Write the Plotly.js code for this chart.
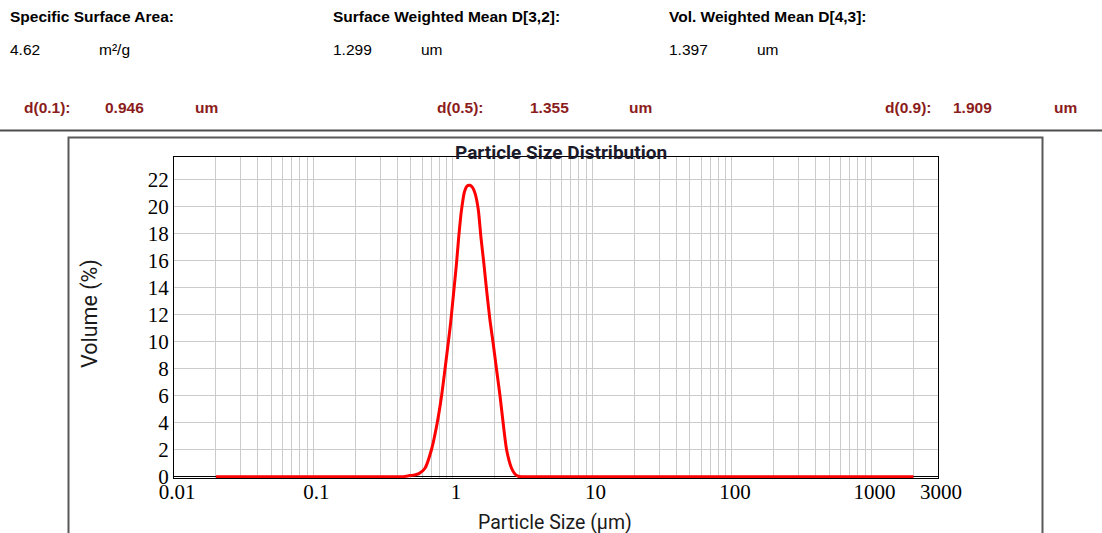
<!DOCTYPE html>
<html><head><meta charset="utf-8">
<script src="https://cdn.plot.ly/plotly-3.0.1.min.js"></script>
<style>html,body{margin:0;padding:0;background:#fff}#chart{width:1102px;height:533px}</style>
</head><body><div id="chart"></div>
<script>
// ---- data ----
const particleSize = [0.02, 0.3, 0.44, 0.49, 0.53, 0.57, 0.63, 0.70, 0.77, 0.83, 0.875, 0.924, 0.96, 1.015, 1.06, 1.10, 1.15, 1.21, 1.26, 1.32, 1.38, 1.44, 1.52, 1.585, 1.665, 1.742, 1.84, 1.941, 2.055, 2.17, 2.29, 2.425, 2.63, 2.78, 2.94, 3.1, 2000];
const volumePct = [0, 0, 0, 0.08, 0.12, 0.22, 0.62, 1.97, 3.95, 6.04, 7.89, 9.87, 11.3, 13.8, 15.78, 17.75, 19.7, 21.1, 21.5, 21.56, 21.4, 20.96, 19.73, 17.75, 15.78, 13.8, 11.6, 9.87, 7.89, 6.04, 3.95, 1.97, 0.62, 0.2, 0.03, 0, 0];
const xTickVals = [0.01, 0.1, 1, 10, 100, 1000, 3000];
const xTickText = ['0.01', '0.1', '1', '10', '100', '1000', '3000'];
const yTickVals = [0, 2, 4, 6, 8, 10, 12, 14, 16, 18, 20, 22];
const yTickText = ['0', '2', '4', '6', '8', '10', '12', '14', '16', '18', '20', '22'];

const headerLabels = ['Specific Surface Area:', 'Surface Weighted Mean D[3,2]:', 'Vol. Weighted Mean D[4,3]:'];
const headerValues = ['4.62', '1.299', '1.397'];
const headerUnits = ['m²/g', 'um', 'um'];
const dLabels = ['d(0.1):', 'd(0.5):', 'd(0.9):'];
const dValues = ['0.946', '1.355', '1.909'];
const dUnits = ['um', 'um', 'um'];

const chartTitle = 'Particle Size Distribution';
const xTitle = 'Particle Size (µm)';
const yTitle = 'Volume (%)';

// ---- layout geometry (pixels) ----
const W = 1102, H = 533;
const M = {l: 174, r: 164, t: 157, b: 55};
const PW = W - M.l - M.r, PH = H - M.t - M.b;
const px2x = p => (p - M.l) / PW;
const px2y = p => (H - M.b - p) / PH;

const headerLabelX = [7.5, 330.5, 667];
const headerUnitX = [97, 419, 755];
const dLabelX = [22, 435, 882.5];
const dValueX = [103, 528, 951];
const dUnitX = [193, 627, 1051.5];

const annotations = [];
const sans = 'Liberation Sans, Arial, sans-serif';
function ann(text, px, py, opts) {
  annotations.push(Object.assign({
    text: text, xref: 'paper', yref: 'paper', x: px2x(px), y: px2y(py),
    xanchor: 'left', yanchor: 'middle', showarrow: false,
    font: {family: sans, size: 15.5, color: '#000'}
  }, opts || {}));
}
for (let i = 0; i < 3; i++) {
  ann('<b>' + headerLabels[i] + '</b>', headerLabelX[i], 16.3);
  ann(headerValues[i], headerLabelX[i], 49.5);
  ann(headerUnits[i], headerUnitX[i], 49.5);
  const red = {family: sans, size: 15.5, color: '#8b1c1c'};
  ann('<b>' + dLabels[i] + '</b>', dLabelX[i], 107.5, {font: red});
  ann('<b>' + dValues[i] + '</b>', dValueX[i], 107.5, {font: red});
  ann('<b>' + dUnits[i] + '</b>', dUnitX[i], 107.5, {font: red});
}
const titleFont = 'Roboto, Noto Sans, sans-serif';
ann('<b>' + chartTitle + '</b>', 561, 152, {xanchor: 'center', font: {family: titleFont, size: 19, color: '#1a1a2a'}});
ann(xTitle, 555, 522, {xanchor: 'center', font: {family: titleFont, size: 19.5, color: '#1a1a1a'}});
ann(yTitle, 90, 314, {xanchor: 'center', textangle: -90, font: {family: titleFont, size: 21.5, color: '#1a1a1a'}});

const shapes = [
  {type: 'line', xref: 'paper', yref: 'paper', x0: px2x(0), x1: px2x(W), y0: px2y(130.5), y1: px2y(130.5),
   line: {color: '#4d4d4d', width: 2}},
  {type: 'rect', xref: 'paper', yref: 'paper', x0: px2x(68.5), x1: px2x(1042.5), y0: px2y(560), y1: px2y(137.5),
   line: {color: '#595959', width: 2}, fillcolor: 'rgba(0,0,0,0)'}
];

const trace = {
  x: particleSize, y: volumePct, type: 'scatter', mode: 'lines',
  line: {color: '#ff0000', width: 3, shape: 'spline', smoothing: 0.6},
  hoverinfo: 'skip'
};

const gridColor = '#cbcbcb';
const layout = {
  width: W, height: H,
  margin: M,
  paper_bgcolor: '#fff', plot_bgcolor: '#fff',
  showlegend: false,
  xaxis: {
    type: 'log', range: [Math.log10(0.01), Math.log10(3000)],
    tickmode: 'array', tickvals: xTickVals, ticktext: xTickText,
    tickfont: {family: 'Liberation Serif, Times New Roman, serif', size: 21, color: '#000'},
    showgrid: true, gridcolor: gridColor, gridwidth: 1,
    minor: {dtick: 'D1', showgrid: true, gridcolor: gridColor, gridwidth: 1, ticks: ''},
    showline: true, mirror: true, linecolor: '#000', linewidth: 1,
    ticks: '', ticklabelstandoff: -5, ticklabelshift: 3,
    zeroline: false, fixedrange: true
  },
  yaxis: {
    range: [-0.1, 23.65],
    tickmode: 'array', tickvals: yTickVals, ticktext: yTickText,
    tickfont: {family: 'Liberation Serif, Times New Roman, serif', size: 21, color: '#000'},
    showgrid: true, gridcolor: gridColor, gridwidth: 1,
    showline: true, mirror: true, linecolor: '#000', linewidth: 1,
    zeroline: true, zerolinecolor: '#000', zerolinewidth: 1,
    ticks: '', ticklabelstandoff: 0,
    fixedrange: true
  },
  annotations: annotations,
  shapes: shapes
};

Plotly.newPlot('chart', [trace], layout, {staticPlot: true, displayModeBar: false});
</script>
</body></html>
